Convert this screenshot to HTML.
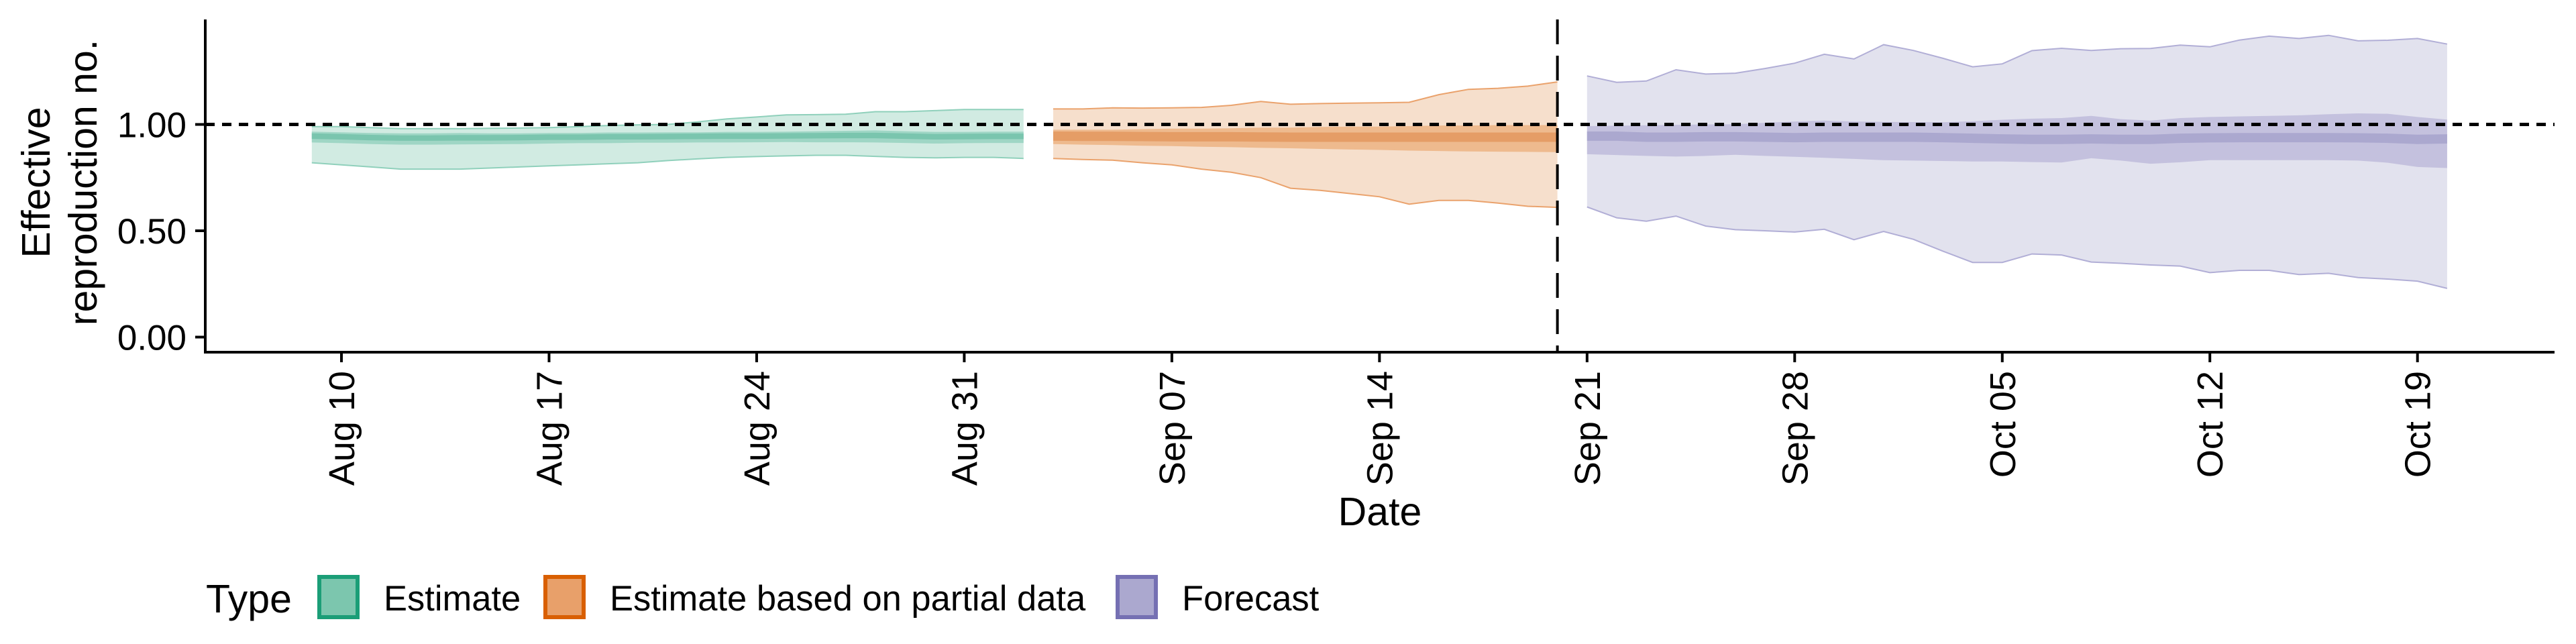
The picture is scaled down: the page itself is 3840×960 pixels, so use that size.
<!DOCTYPE html>
<html><head><meta charset="utf-8"><title>Effective reproduction number</title>
<style>
html,body{margin:0;padding:0;background:#fff;}
svg{display:block;font-family:"Liberation Sans",sans-serif;}
</style></head>
<body>
<svg id="chart" width="3840" height="960" viewBox="0 0 3840 960" xmlns="http://www.w3.org/2000/svg"></svg>
<script>
// ---- data ----
const estDays = [-1,0,1,2,3,4,5,6,7,8,9,10,11,12,13,14,15,16,17,18,19,20,21,22,23];
const estUpper90 = [0.99,0.99,0.985,0.98,0.98,0.98,0.982,0.983,0.985,0.99,0.995,0.998,1.0,1.012,1.026,1.035,1.045,1.046,1.048,1.06,1.06,1.065,1.07,1.07,1.07];
const estLower90 = [0.82,0.81,0.80,0.79,0.79,0.79,0.795,0.80,0.805,0.81,0.815,0.82,0.83,0.838,0.845,0.849,0.852,0.855,0.855,0.85,0.845,0.843,0.845,0.845,0.84];
const estUpper50 = [0.966,0.963,0.96,0.958,0.958,0.96,0.958,0.958,0.96,0.96,0.962,0.962,0.963,0.963,0.965,0.965,0.966,0.968,0.97,0.972,0.968,0.965,0.965,0.966,0.966];
const estLower50 = [0.915,0.912,0.908,0.905,0.905,0.906,0.907,0.908,0.91,0.912,0.912,0.914,0.914,0.915,0.915,0.916,0.917,0.916,0.916,0.915,0.913,0.91,0.912,0.913,0.913];
const estMedian = [0.945,0.942,0.938,0.936,0.936,0.937,0.937,0.938,0.94,0.94,0.942,0.942,0.943,0.944,0.945,0.945,0.946,0.947,0.948,0.948,0.945,0.942,0.943,0.944,0.944];

const partDays = [24,25,26,27,28,29,30,31,32,33,34,35,36,37,38,39,40,41];
const partUpper90 = [1.073,1.073,1.078,1.077,1.078,1.08,1.09,1.108,1.095,1.098,1.10,1.102,1.104,1.14,1.165,1.17,1.18,1.20];
const partLower90 = [0.84,0.835,0.832,0.82,0.81,0.79,0.775,0.75,0.70,0.69,0.675,0.66,0.625,0.643,0.643,0.63,0.615,0.61];
const partUpper50 = [0.975,0.975,0.975,0.978,0.98,0.98,0.982,0.985,0.985,0.988,0.99,0.99,0.992,0.995,0.995,0.997,0.997,0.997];
const partLower50 = [0.908,0.905,0.903,0.90,0.898,0.895,0.893,0.89,0.888,0.885,0.882,0.88,0.877,0.875,0.873,0.872,0.871,0.87];
const partMedian = [0.945,0.944,0.944,0.943,0.942,0.942,0.942,0.941,0.94,0.94,0.94,0.94,0.94,0.94,0.94,0.94,0.94,0.94];

const fcDays = [42,43,44,45,46,47,48,49,50,51,52,53,54,55,56,57,58,59,60,61,62,63,64,65,66,67,68,69,70,71];
const fcUpper90 = [1.228,1.198,1.204,1.257,1.237,1.241,1.263,1.288,1.330,1.308,1.375,1.348,1.311,1.271,1.285,1.347,1.358,1.348,1.356,1.357,1.373,1.365,1.397,1.415,1.404,1.419,1.393,1.396,1.404,1.378];
const fcLower90 = [0.612,0.561,0.545,0.569,0.522,0.505,0.500,0.494,0.507,0.458,0.497,0.460,0.404,0.351,0.351,0.391,0.386,0.353,0.347,0.339,0.334,0.303,0.314,0.314,0.294,0.300,0.280,0.273,0.263,0.229];
const fcUpper50 = [0.992,0.994,0.996,0.998,1.0,1.001,1.008,1.014,1.018,1.014,1.012,1.011,1.010,1.015,1.022,1.027,1.030,1.040,1.025,1.018,1.03,1.035,1.038,1.040,1.043,1.048,1.052,1.050,1.035,1.023];
const fcLower50 = [0.860,0.856,0.852,0.849,0.852,0.857,0.852,0.848,0.843,0.838,0.832,0.830,0.828,0.826,0.826,0.823,0.821,0.841,0.83,0.815,0.822,0.832,0.832,0.832,0.832,0.832,0.830,0.820,0.800,0.795];
const fcMedian = [0.945,0.945,0.94,0.94,0.942,0.942,0.94,0.938,0.94,0.94,0.94,0.94,0.938,0.935,0.932,0.93,0.93,0.932,0.93,0.93,0.935,0.937,0.938,0.938,0.938,0.938,0.937,0.935,0.93,0.932];

const xTickLabels = ["Aug 10","Aug 17","Aug 24","Aug 31","Sep 07","Sep 14","Sep 21","Sep 28","Oct 05","Oct 12","Oct 19"];
const xTickDays = [0,7,14,21,28,35,42,49,56,63,70];
const yTickValues = [0,0.5,1.0];
const yTickLabels = ["0.00","0.50","1.00"];
const forecastStartDay = 41;

// ---- scales ----
const X0 = 509, PX_PER_DAY = 44.21;
const Y0 = 502.5, PX_PER_UNIT = 317;
const xs = d => X0 + d * PX_PER_DAY;
const ys = v => Y0 - v * PX_PER_UNIT;

const svg = document.getElementById('chart');
const NS = 'http://www.w3.org/2000/svg';
function mk(tag, attrs, parent) {
  const el = document.createElementNS(NS, tag);
  for (const k in attrs) el.setAttribute(k, attrs[k]);
  (parent || svg).appendChild(el);
  return el;
}

function band(days, up, lo, fill, name) {
  let d = 'M' + days.map((t,i)=>xs(t).toFixed(1)+','+ys(up[i]).toFixed(1)).join('L');
  d += 'L' + days.map((t,i)=>i).reverse().map(i=>xs(days[i]).toFixed(1)+','+ys(lo[i]).toFixed(1)).join('L') + 'Z';
  const p = mk('path', {d:d, fill:fill, stroke:'none'});
  
  
  return p;
}
function edge(days, vals, stroke, name) {
  const p = mk('polyline', {points: days.map((t,i)=>xs(t).toFixed(1)+','+ys(vals[i]).toFixed(1)).join(' '), fill:'none', stroke:stroke, 'stroke-width':2});
  
  
}
function series(days, u90, l90, u50, l50, med, cols, key) {
  band(days, u90, l90, cols[0], key + '-ribbon-90');
  edge(days, u90, cols[3], key + '-upper-edge');
  edge(days, l90, cols[3], key + '-lower-edge');
  band(days, u50, l50, cols[1], key + '-ribbon-50');
  const w = key === 'estimate' ? 0.013 : 0.022;
  band(days, med.map(v=>v+w), med.map(v=>v-w), cols[2], key + '-ribbon-20');
}
series(estDays, estUpper90, estLower90, estUpper50, estLower50, estMedian, ['#d1ebe2','#9fd6c5','#7ac5ae','#8fd0bb'], 'estimate');
series(partDays, partUpper90, partLower90, partUpper50, partLower50, partMedian, ['#f6dfcc','#eeba8e','#e59d66','#eaa26c'], 'partial-estimate');
series(fcDays, fcUpper90, fcLower90, fcUpper50, fcLower50, fcMedian, ['#e2e2ee','#c4c1de','#aba8cf','#b1aed6'], 'forecast');

// reference lines
let hl = mk('line', {x1:306, x2:3808, y1:ys(1), y2:ys(1), stroke:'#000', 'stroke-width':5, 'stroke-dasharray':'14 11'});


let vl = mk('line', {x1:xs(forecastStartDay), x2:xs(forecastStartDay), y1:29, y2:525, stroke:'#000', 'stroke-width':4, 'stroke-dasharray':'37 17'});



// axes
let ya = mk('line', {x1:306, x2:306, y1:29, y2:527, stroke:'#000', 'stroke-width':4});


let xa = mk('line', {x1:304, x2:3808, y1:525, y2:525, stroke:'#000', 'stroke-width':4});



yTickValues.forEach((v,i)=>{
  const t = mk('line', {x1:291, x2:306, y1:ys(v), y2:ys(v), stroke:'#000', 'stroke-width':4});
  
  
  const tx = mk('text', {x:278, y:ys(v)+19, 'text-anchor':'end', 'font-size':53, fill:'#000'});
  tx.textContent = yTickLabels[i];
  
  
});
xTickDays.forEach((d,i)=>{
  const t = mk('line', {x1:xs(d), x2:xs(d), y1:525, y2:540, stroke:'#000', 'stroke-width':4});
  
  
  const tx = mk('text', {x:0, y:0, 'text-anchor':'end', 'font-size':54, fill:'#000', transform:'translate('+(xs(d)+19)+',553) rotate(-90)'});
  tx.textContent = xTickLabels[i];
  
  
});

// titles
let xt = mk('text', {x:2057, y:783, 'text-anchor':'middle', 'font-size':59, fill:'#000'});
xt.textContent = 'Date';


let ytg = mk('text', {'text-anchor':'middle', 'font-size':59, fill:'#000', transform:'translate(0,272) rotate(-90)'});


let l1 = mk('tspan', {x:0, y:74}, ytg); l1.textContent = 'Effective';
let l2 = mk('tspan', {x:0, y:144}, ytg); l2.textContent = 'reproduction no.';

// legend
const legLabels = ['Estimate','Estimate based on partial data','Forecast'];
const legFill = ['#7cc6ae','#e8a06a','#aba8cf'];
const legStroke = ['#1b9e77','#d95f02','#7570b3'];
const legKeyX = [473, 810, 1663];
let lt = mk('text', {x:307, y:913, 'font-size':59, fill:'#000'});
lt.textContent = 'Type';


legLabels.forEach((lab,i)=>{
  const r = mk('rect', {x:legKeyX[i]+3, y:860, width:57, height:60, fill:legFill[i], stroke:legStroke[i], 'stroke-width':6});
  
  
  const t = mk('text', {x:legKeyX[i]+99, y:910, 'font-size':52.5, fill:'#000'});
  t.textContent = lab;
  
  
});
</script>
</body></html>
